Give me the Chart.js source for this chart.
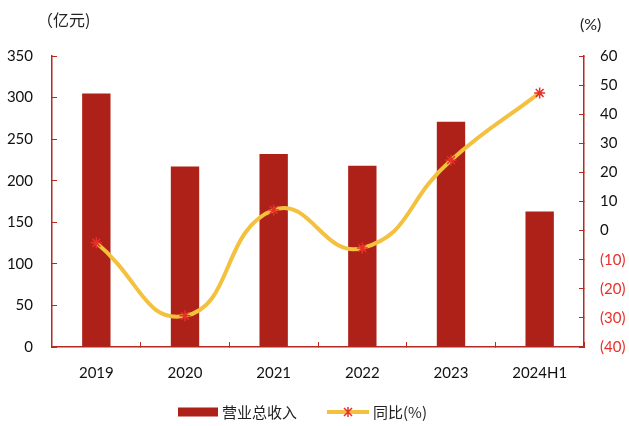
<!DOCTYPE html>
<html><head><meta charset="utf-8">
<script src="https://cdn.jsdelivr.net/npm/chart.js@4/dist/chart.umd.min.js"></script>
<style>html,body{margin:0;padding:0;background:#fff}#wrap{width:629px;height:426px;position:relative}</style>
</head><body><div id="wrap"><canvas id="c" width="629" height="426"></canvas></div>
<script>
const categories = ['2019','2020','2021','2022','2023','2024H1'];
const revenue = [305, 217, 232, 218, 271, 163];
const yoy = [-4.2, -29.3, 7.1, -6.0, 24.2, 47.3];
const leftTicks = [0,50,100,150,200,250,300,350];
const rightTicks = [-40,-30,-20,-10,0,10,20,30,40,50,60];
const seriesNames = ['营业总收入','同比(%)'];

const BAR = '#AE2118', LINE = '#F4C13F', MARK = '#E8302A', AXIS = '#B52A22';
const FONT = "Lato, 'Noto Sans CJK SC', sans-serif";
const CJK = "'Noto Sans CJK SC', sans-serif";

const legendPlugin = {
  id: 'customLegend',
  afterDraw(chart) {
    const ctx = chart.ctx;
    ctx.save();
    const y = 412;
    ctx.fillStyle = BAR;
    ctx.fillRect(178, y - 4.5, 40, 9);
    ctx.font = "15px " + CJK;
    ctx.fillStyle = '#222';
    ctx.textBaseline = 'middle';
    ctx.fillText(seriesNames[0], 222, y);
    ctx.strokeStyle = LINE; ctx.lineWidth = 4;
    ctx.beginPath(); ctx.moveTo(327, y); ctx.lineTo(369, y); ctx.stroke();
    ctx.strokeStyle = MARK; ctx.lineWidth = 1.5;
    const cx = 348, r = 4;
    ctx.beginPath();
    ctx.moveTo(cx - r, y - r); ctx.lineTo(cx + r, y + r);
    ctx.moveTo(cx + r, y - r); ctx.lineTo(cx - r, y + r);
    ctx.moveTo(cx, y - r - 1); ctx.lineTo(cx, y + r + 1);
    ctx.stroke();
    ctx.fillStyle = '#222';
    ctx.fillText(seriesNames[1], 373, y);
    // axis unit titles
    ctx.font = "16px " + CJK;
    ctx.fillText('（亿元)', 37, 20);
    ctx.font = "16px " + FONT;
    ctx.fillText('(%)', 580, 25);
    ctx.restore();
  }
};

new Chart(document.getElementById('c'), {
  data: {
    labels: categories,
    datasets: [
      { type: 'line', label: seriesNames[1], data: yoy, yAxisID: 'y2',
        borderColor: LINE, borderWidth: 4, tension: 0.5, fill: false,
        pointStyle: 'star', pointRadius: 5.5, pointBorderColor: MARK, pointBorderWidth: 1.5,
        pointBackgroundColor: MARK, order: 0 },
      { type: 'bar', label: seriesNames[0], data: revenue, yAxisID: 'y',
        backgroundColor: BAR, categoryPercentage: 1, barPercentage: 0.32, order: 1 }
    ]
  },
  options: {
    responsive: false, animation: false,
    layout: { padding: { top: 56, bottom: 0, left: 0, right: 0 } },
    plugins: { legend: { display: false }, tooltip: { enabled: false } },
    scales: {
      x: {
        grid: { display: true, drawOnChartArea: false, offset: true, tickLength: -5, color: AXIS, tickColor: AXIS },
        border: { color: AXIS, width: 1.5 },
        ticks: { color: '#111', font: { family: FONT, size: 15 }, padding: 22 },
        afterFit(s) { s.height = 79; }
      },
      y: {
        position: 'left', min: 0, max: 350,
        afterBuildTicks(s) { s.ticks = leftTicks.map(v => ({ value: v })); },
        grid: { drawOnChartArea: false, tickLength: -5, color: AXIS, tickColor: AXIS },
        border: { color: AXIS, width: 1.5 },
        ticks: { color: '#111', font: { family: FONT, size: 15 }, padding: 24 },
        afterFit(s) { s.width = 52; }
      },
      y2: {
        position: 'right', min: -40, max: 60,
        afterBuildTicks(s) { s.ticks = rightTicks.map(v => ({ value: v })); },
        grid: { drawOnChartArea: false, tickLength: -5, color: AXIS, tickColor: AXIS },
        border: { color: AXIS, width: 1.5 },
        ticks: {
          font: { family: FONT, size: 15 }, padding: 21,
          color: c => (c.tick && c.tick.value < 0) ? '#E8302A' : '#111',
          callback: v => v < 0 ? '(' + Math.abs(v) + ')' : String(v)
        },
        afterFit(s) { s.width = 45; }
      }
    }
  },
  plugins: [legendPlugin]
});
</script></body></html>
